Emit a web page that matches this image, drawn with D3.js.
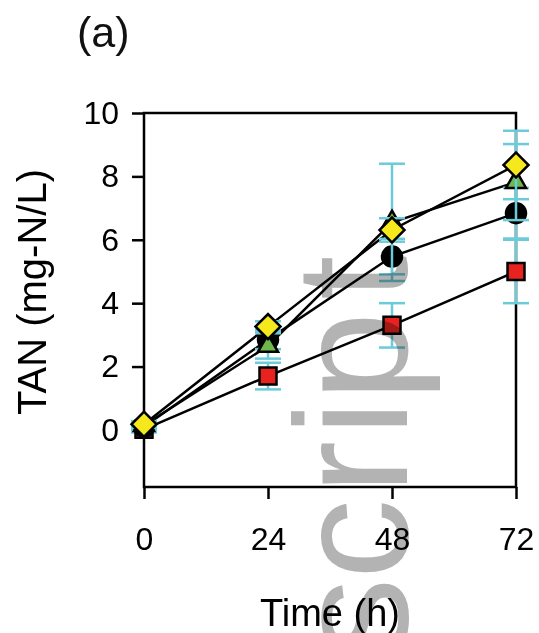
<!DOCTYPE html>
<html>
<head>
<meta charset="utf-8">
<script src="https://cdn.jsdelivr.net/npm/d3@7"></script>
<style>
  html, body { margin: 0; padding: 0; background: #fff; }
  svg { display: block; }
  text { font-family: "Liberation Sans", Arial, sans-serif; }
</style>
</head>
<body>
<svg id="chart" width="539" height="633"></svg>
<script>
// Sampling times (h)
const times = [0, 24, 48, 72];
const xTicks = [0, 24, 48, 72];
const yTicks = [0, 2, 4, 6, 8, 10];

// TAN concentration (mg-N/L) per treatment, with standard deviations
const squareMean   = [0.02, 1.70, 3.30, 5.00];
const squareErr    = [0.10, 0.42, 0.70, 1.00];
const circleMean   = [0.10, 2.85, 5.47, 6.84];
const circleErr    = [0.10, 0.30, 0.56, 0.80];
const triangleMean = [0.15, 2.65, 6.55, 7.82];
const triangleErr  = [0.10, 0.40, 1.85, 1.20];
const diamondMean  = [0.18, 3.26, 6.31, 8.36];
const diamondErr   = [0.10, 0.17, 0.37, 1.08];

const series = [
  { mean: squareMean,   err: squareErr,   shape: d3.symbolSquare,   size: 289, rotate: 0,  fill: "#e8231f" },
  { mean: circleMean,   err: circleErr,   shape: d3.symbolCircle,   size: 314, rotate: 0,  fill: "#000000" },
  { mean: triangleMean, err: triangleErr, shape: d3.symbolTriangle, size: 175, rotate: 0,  fill: "#6cb84a" },
  { mean: diamondMean,  err: diamondErr,  shape: d3.symbolSquare,   size: 313, rotate: 45, fill: "#f5e81c" }
];

const svg = d3.select("#chart");
const plotL = 144, plotR = 516, plotT = 113, plotB = 487;

const x = d3.scaleLinear().domain([0, 72]).range([plotL, plotR]);
const y = d3.scaleLinear().domain([-1.8, 10]).range([plotB, plotT]);

// Panel label
svg.append("text").attr("x", 77).attr("y", 47)
  .attr("font-size", 43).attr("fill", "#111").text("(a)");

// Axes
const yAxis = d3.axisLeft(y).tickValues(yTicks).tickSize(12).tickPadding(13).tickFormat(d3.format("d"));
const xAxis = d3.axisBottom(x).tickValues(xTicks).tickSize(12).tickPadding(28).tickFormat(d3.format("d"));

const gy = svg.append("g").attr("transform", `translate(${plotL},0)`).call(yAxis);
const gx = svg.append("g").attr("transform", `translate(0,${plotB})`).call(xAxis);
[gx, gy].forEach(g => {
  g.select(".domain").remove();
  g.selectAll(".tick line").attr("stroke", "#000").attr("stroke-width", 2.5);
  g.selectAll(".tick text").attr("font-size", 32).attr("fill", "#000")
    .attr("font-family", "Liberation Sans, Arial, sans-serif");
});

// Frame
svg.append("rect").attr("x", plotL).attr("y", plotT)
  .attr("width", plotR - plotL).attr("height", plotB - plotT)
  .attr("fill", "none").attr("stroke", "#000").attr("stroke-width", 2.5);

// Axis titles
svg.append("text").attr("x", (plotL + plotR) / 2).attr("y", 626)
  .attr("text-anchor", "middle").attr("font-size", 38).attr("fill", "#000").text("Time (h)");
svg.append("text").attr("transform", "translate(46,292) rotate(-90)")
  .attr("text-anchor", "middle").attr("font-size", 40).attr("fill", "#000").text("TAN (mg-N/L)");

// Connecting lines
const line = d3.line().x((d, i) => x(times[i])).y(d => y(d));
const lineLayer = svg.append("g");
series.forEach(s => {
  lineLayer.append("path").attr("d", line(s.mean))
    .attr("fill", "none").attr("stroke", "#000").attr("stroke-width", 2.5);
});

// Error bars and markers, one series at a time
const capHalf = 13;
series.forEach(s => {
  const g = svg.append("g");
  s.mean.forEach((m, i) => {
    const cx = x(times[i]);
    const y1 = y(m + s.err[i]), y0 = y(m - s.err[i]);
    const eb = g.append("g").attr("stroke", "#6ccbd9").attr("stroke-width", 2.5);
    eb.append("line").attr("x1", cx).attr("x2", cx).attr("y1", y1).attr("y2", y0);
    eb.append("line").attr("x1", cx - capHalf).attr("x2", cx + capHalf).attr("y1", y1).attr("y2", y1);
    eb.append("line").attr("x1", cx - capHalf).attr("x2", cx + capHalf).attr("y1", y0).attr("y2", y0);
  });
  g.selectAll("path.mark").data(s.mean).join("path")
    .attr("class", "mark")
    .attr("d", d3.symbol().type(s.shape).size(s.size))
    .attr("transform", (d, i) => `translate(${x(times[i])},${y(d)}) rotate(${s.rotate})`)
    .attr("fill", s.fill).attr("stroke", "#000").attr("stroke-width", 2.5);
});

// Watermark: vertical grey lettering with per-glyph offsets along the baseline
svg.append("text").attr("transform", "translate(407,0) rotate(-90)")
  .attr("x", "-658 -579 -494 -436 -401 -300")
  .attr("font-size", 160)
  .attr("font-family", "Open Sans, sans-serif")
  .attr("fill", "#b3b3b3").style("mix-blend-mode", "multiply")
  .text("script");
</script>
</body>
</html>
